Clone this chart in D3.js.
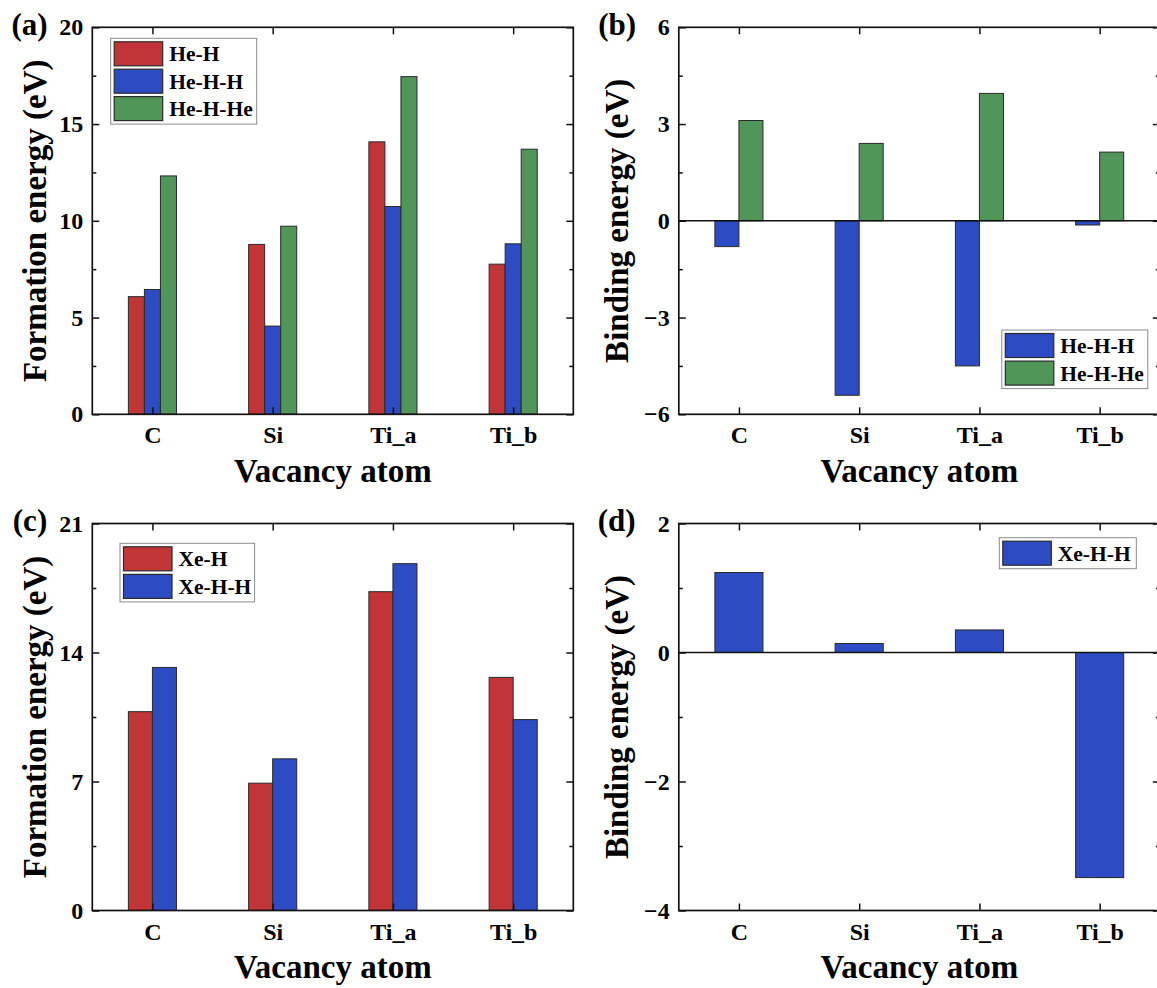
<!DOCTYPE html>
<html>
<head>
<meta charset="utf-8">
<script src="https://cdn.jsdelivr.net/npm/d3@7"></script>
<style>
  html, body { margin: 0; padding: 0; background: #fff; }
  svg { display: block; }
  text { font-family: "Liberation Serif", "Times New Roman", serif; font-weight: bold; fill: #000; }
</style>
</head>
<body>
<svg id="chart" width="1157" height="988"></svg>
<script>
// ---------------- DATA ----------------
const categories = ["C", "Si", "Ti_a", "Ti_b"];

// (a) Formation energy, He complexes
const heSeries = ["He-H", "He-H-H", "He-H-He"];
const heH_formation   = [6.08, 8.78, 14.08, 7.76];
const heHH_formation  = [6.45, 4.56, 10.74, 8.81];
const heHHe_formation = [12.32, 9.72, 17.45, 13.70];
const aTicks = [0, 5, 10, 15, 20];
const aMinor = [2.5, 7.5, 12.5, 17.5];

// (b) Binding energy, He complexes
const heBindSeries = ["He-H-H", "He-H-He"];
const heHH_binding  = [-0.80, -5.41, -4.50, -0.13];
const heHHe_binding = [3.11, 2.40, 3.95, 2.13];
const bTicks = [-6, -3, 0, 3, 6];
const bMinor = [-4.5, -1.5, 1.5, 4.5];

// (c) Formation energy, Xe complexes
const xeSeries = ["Xe-H", "Xe-H-H"];
const xeH_formation  = [10.79, 6.91, 17.30, 12.65];
const xeHH_formation = [13.19, 8.23, 18.82, 10.36];
const cTicks = [0, 7, 14, 21];
const cMinor = [3.5, 10.5, 17.5];

// (d) Binding energy, Xe complexes
const xeBindSeries = ["Xe-H-H"];
const xeHH_binding = [1.24, 0.14, 0.35, -3.49];
const dTicks = [-4, -2, 0, 2];
const dMinor = [-3, -1, 1];

const seriesColor = {
  "He-H": "#c13537", "He-H-H": "#2d4bc2", "He-H-He": "#4f9658",
  "Xe-H": "#c13537", "Xe-H-H": "#2d4bc2"
};

// ---------------- LAYOUT ----------------
const svg = d3.select("#chart");
const W = 481, H = 387;
const fmt = d3.format("d");

function panel(cfg) {
  const g = svg.append("g").attr("transform", `translate(${cfg.left},${cfg.top})`);
  const step = W / categories.length;
  const x = d3.scalePoint().domain(categories).range([step / 2, W - step / 2]);
  const x1 = d3.scaleBand().domain(cfg.series).range([-0.2 * step, 0.2 * step]);
  const y = d3.scaleLinear().domain(cfg.domain).range([H, 0]);

  const rows = [];
  cfg.series.forEach((s, si) => {
    cfg.values[si].forEach((v, ci) => rows.push({ s, c: categories[ci], v }));
  });

  // bars
  g.append("g").selectAll("rect").data(rows).join("rect")
    .attr("x", d => x(d.c) + x1(d.s))
    .attr("width", x1.bandwidth())
    .attr("y", d => y(Math.max(0, d.v)))
    .attr("height", d => Math.abs(y(d.v) - y(0)))
    .attr("fill", d => seriesColor[d.s])
    .attr("stroke", "#2a2a2a").attr("stroke-width", 1);

  // zero line
  if (cfg.domain[0] < 0) {
    g.append("line").attr("x1", 0).attr("x2", W).attr("y1", y(0)).attr("y2", y(0))
      .attr("stroke", "#111").attr("stroke-width", 1.6);
  }

  const styleAxis = sel => {
    sel.select(".domain").remove();
    sel.selectAll(".tick line").attr("stroke", "#111").attr("stroke-width", 1.5);
    sel.selectAll("text").style("font-size", "24px");
  };

  // left axis
  g.append("g").call(d3.axisLeft(y).tickValues(cfg.ticks).tickFormat(fmt).tickSize(-7).tickPadding(9)).call(styleAxis);
  g.append("g").call(d3.axisLeft(y).tickValues(cfg.minor).tickSize(-4).tickFormat("")).call(styleAxis);
  // right axis
  g.append("g").attr("transform", `translate(${W},0)`)
    .call(d3.axisRight(y).tickValues(cfg.ticks).tickSize(-7).tickFormat("")).call(styleAxis);
  g.append("g").attr("transform", `translate(${W},0)`)
    .call(d3.axisRight(y).tickValues(cfg.minor).tickSize(-4).tickFormat("")).call(styleAxis);
  // bottom axis (categories)
  g.append("g").attr("transform", `translate(0,${H})`)
    .call(d3.axisBottom(x).tickSize(-7).tickPadding(12)).call(styleAxis);
  // top axis
  g.append("g").call(d3.axisTop(x).tickSize(-7).tickFormat("")).call(styleAxis);

  // frame
  g.append("rect").attr("x", 0).attr("y", 0).attr("width", W).attr("height", H)
    .attr("fill", "none").attr("stroke", "#111").attr("stroke-width", 1.7);

  // titles
  g.append("text").attr("x", W / 2).attr("y", H + 67.5).attr("text-anchor", "middle")
    .style("font-size", "33px").text("Vacancy atom");
  g.append("text").attr("transform", `translate(${cfg.yTitleX},${H / 2}) rotate(-90)`)
    .attr("text-anchor", "middle").style("font-size", "33px").text(cfg.yTitle);
  g.append("text").attr("x", cfg.labelX).attr("y", 7.5).style("font-size", "31px").text(cfg.label);

  // legend
  const L = cfg.legend;
  const lg = g.append("g").attr("transform", `translate(${L.x},${L.y})`);
  lg.append("rect").attr("width", L.w).attr("height", 7 + cfg.series.length * L.step - (L.step - 24))
    .attr("fill", "#fff").attr("stroke", "#8a8a8a").attr("stroke-width", 1);
  cfg.series.forEach((s, i) => {
    lg.append("rect").attr("x", 3.5).attr("y", 3.5 + i * L.step).attr("width", 48.5).attr("height", 24)
      .attr("fill", seriesColor[s]).attr("stroke", "#2a2a2a").attr("stroke-width", 1.2);
    lg.append("text").attr("x", 58.5).attr("y", 3.5 + i * L.step + 12).attr("dy", "0.35em")
      .style("font-size", "21.5px").text(s);
  });
}

panel({
  left: 92.3, top: 27.3, domain: [0, 20], ticks: aTicks, minor: aMinor,
  series: heSeries, values: [heH_formation, heHH_formation, heHHe_formation],
  yTitle: "Formation energy (eV)", yTitleX: -46.5, label: "(a)", labelX: -80.8,
  legend: { x: 18.4, y: 11, w: 146, step: 27.4 }
});
panel({
  left: 678.8, top: 27.3, domain: [-6, 6], ticks: bTicks, minor: bMinor,
  series: heBindSeries, values: [heHH_binding, heHHe_binding],
  yTitle: "Binding energy (eV)", yTitleX: -50.5, label: "(b)", labelX: -80.5,
  legend: { x: 323, y: 302.7, w: 146, step: 27.6 }
});
panel({
  left: 92.3, top: 523.5, domain: [0, 21], ticks: cTicks, minor: cMinor,
  series: xeSeries, values: [xeH_formation, xeHH_formation],
  yTitle: "Formation energy (eV)", yTitleX: -46.5, label: "(c)", labelX: -79.5,
  legend: { x: 27.7, y: 19.8, w: 134.6, step: 27.6 }
});
panel({
  left: 678.8, top: 523.5, domain: [-4, 2], ticks: dTicks, minor: dMinor,
  series: xeBindSeries, values: [xeHH_binding],
  yTitle: "Binding energy (eV)", yTitleX: -50.5, label: "(d)", labelX: -81,
  legend: { x: 320.5, y: 14.2, w: 137, step: 27.6 }
});
</script>
</body>
</html>
